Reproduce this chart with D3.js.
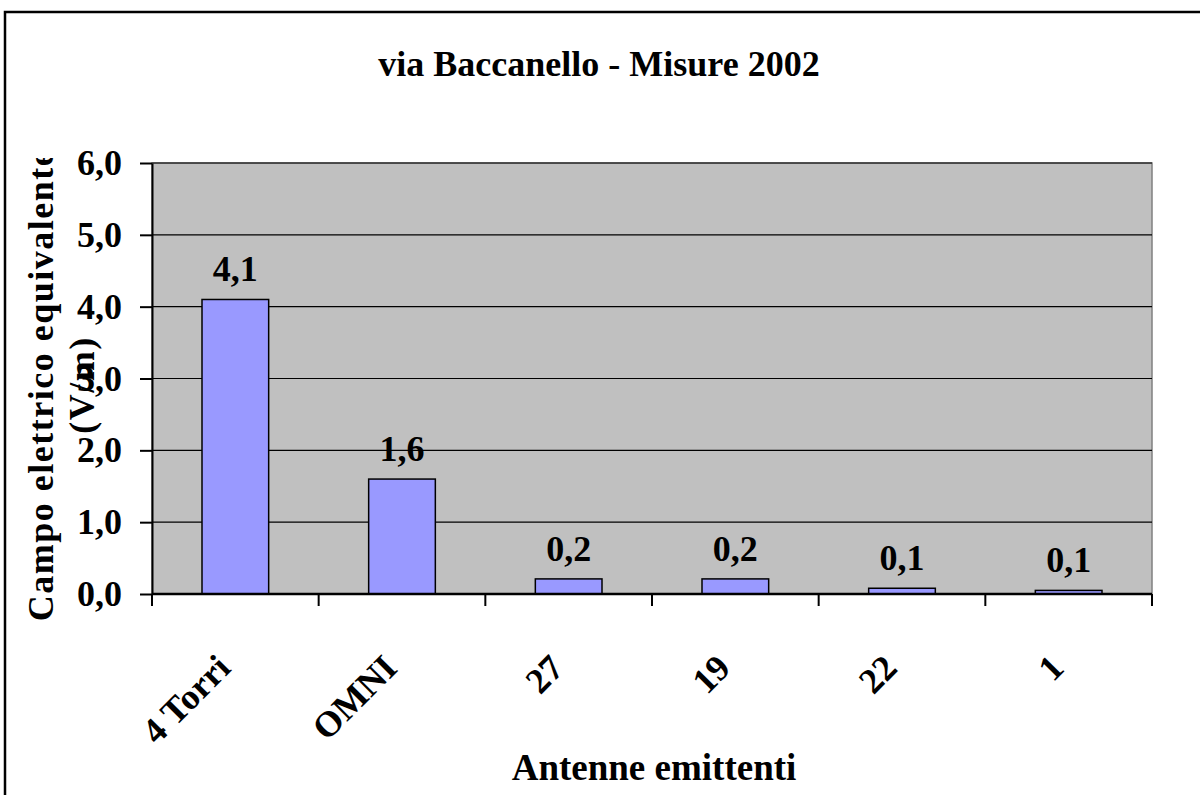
<!DOCTYPE html>
<html>
<head>
<meta charset="utf-8">
<script src="https://cdn.jsdelivr.net/npm/d3@7"></script>
<style>
  html, body { margin: 0; padding: 0; background: #fff; }
  svg { display: block; }
  text { font-family: "Liberation Serif", "Times New Roman", serif; font-weight: bold; fill: #000; }
</style>
</head>
<body>
<svg id="chart" width="1200" height="795"></svg>
<script>
const categories = ["4 Torri", "OMNI", "27", "19", "22", "1"];
const values = [4.1, 1.6, 0.21, 0.21, 0.08, 0.05];
const yTicks = [0, 1, 2, 3, 4, 5, 6];
const titleText = "via Baccanello - Misure 2002";
const xTitle = "Antenne emittenti";
const yTitleLines = ["Campo elettrico equivalente", "(V/m)"];

const svg = d3.select("#chart");
const plot = { left: 152, right: 1152, top: 163, bottom: 594 };

const fmt = v => d3.format(".1f")(v).replace(".", ",");

const x = d3.scaleBand().domain(categories).range([plot.left, plot.right]).paddingInner(0.6).paddingOuter(0.3);
const xBand = d3.scaleBand().domain(categories).range([plot.left, plot.right]);
const y = d3.scaleLinear().domain([0, 6]).range([plot.bottom, plot.top]);

// outer frame
svg.append("rect").attr("x", 5).attr("y", 12).attr("width", 1210).attr("height", 820)
  .attr("fill", "#fff").attr("stroke", "#000").attr("stroke-width", 2.5);

// plot area
svg.append("rect").attr("x", plot.left).attr("y", plot.top)
  .attr("width", plot.right - plot.left).attr("height", plot.bottom - plot.top)
  .attr("fill", "#C0C0C0").attr("stroke", "#808080").attr("stroke-width", 1.5);

// gridlines
svg.append("g").selectAll("line").data(yTicks.filter(d => d > 0)).join("line")
  .attr("x1", plot.left).attr("x2", plot.right)
  .attr("y1", d => y(d)).attr("y2", d => y(d))
  .attr("stroke", "#000").attr("stroke-width", 1.2);

// bars
svg.append("g").selectAll("rect").data(values).join("rect")
  .attr("x", (d, i) => x(categories[i]))
  .attr("width", x.bandwidth())
  .attr("y", d => y(d))
  .attr("height", d => y(0) - y(d))
  .attr("fill", "#9999FF").attr("stroke", "#000").attr("stroke-width", 1.5);

// data labels
svg.append("g").selectAll("text").data(values).join("text")
  .attr("x", (d, i) => x(categories[i]) + x.bandwidth() / 2)
  .attr("y", d => y(d) - 18)
  .attr("text-anchor", "middle")
  .style("font-size", "36px")
  .text(d => fmt(d));

// y axis
const yAxis = d3.axisLeft(y).tickValues(yTicks).tickSize(12).tickSizeOuter(0).tickFormat(fmt).tickPadding(18);
const gy = svg.append("g").attr("transform", `translate(${plot.left},0)`).call(yAxis);
gy.select(".domain").attr("stroke", "#000").attr("stroke-width", 2);
gy.selectAll(".tick line").attr("stroke", "#000").attr("stroke-width", 2);
gy.selectAll(".tick text").style("font-size", "36px")
  .style("font-family", '"Liberation Serif", "Times New Roman", serif').style("font-weight", "bold").attr("fill", "#000");

// x axis
const bounds = categories.map(c => xBand(c)).concat([plot.right]);
const gx = svg.append("g");
gx.append("line").attr("x1", plot.left).attr("x2", plot.right)
  .attr("y1", plot.bottom).attr("y2", plot.bottom).attr("stroke", "#000").attr("stroke-width", 2.5);
gx.selectAll("line.tk").data(bounds).join("line").attr("class", "tk")
  .attr("x1", d => d).attr("x2", d => d)
  .attr("y1", plot.bottom).attr("y2", plot.bottom + 12)
  .attr("stroke", "#000").attr("stroke-width", 2);
gx.selectAll("text").data(categories).join("text")
  .attr("transform", d => `translate(${xBand(d) + xBand.bandwidth() / 2 - 3},${plot.bottom + 76}) rotate(-45)`)
  .attr("text-anchor", "end")
  .style("font-size", "36px")
  .text(d => d);

// titles
svg.append("text").attr("x", 599).attr("y", 76).attr("text-anchor", "middle")
  .style("font-size", "36px").text(titleText);
svg.append("text").attr("x", 654).attr("y", 780).attr("text-anchor", "middle")
  .style("font-size", "37px").text(xTitle);

// y title (clipped at top)
svg.append("clipPath").attr("id", "yclip").append("rect")
  .attr("x", 0).attr("y", 158).attr("width", 200).attr("height", 700);
const yt = svg.append("g").attr("clip-path", "url(#yclip)");
yt.selectAll("text").data(yTitleLines).join("text")
  .attr("transform", (d, i) => `translate(${53 + i * 41},385) rotate(-90)`)
  .attr("text-anchor", "middle")
  .style("font-size", "36px")
  .style("letter-spacing", "1.5px")
  .text(d => d);
</script>
</body>
</html>
